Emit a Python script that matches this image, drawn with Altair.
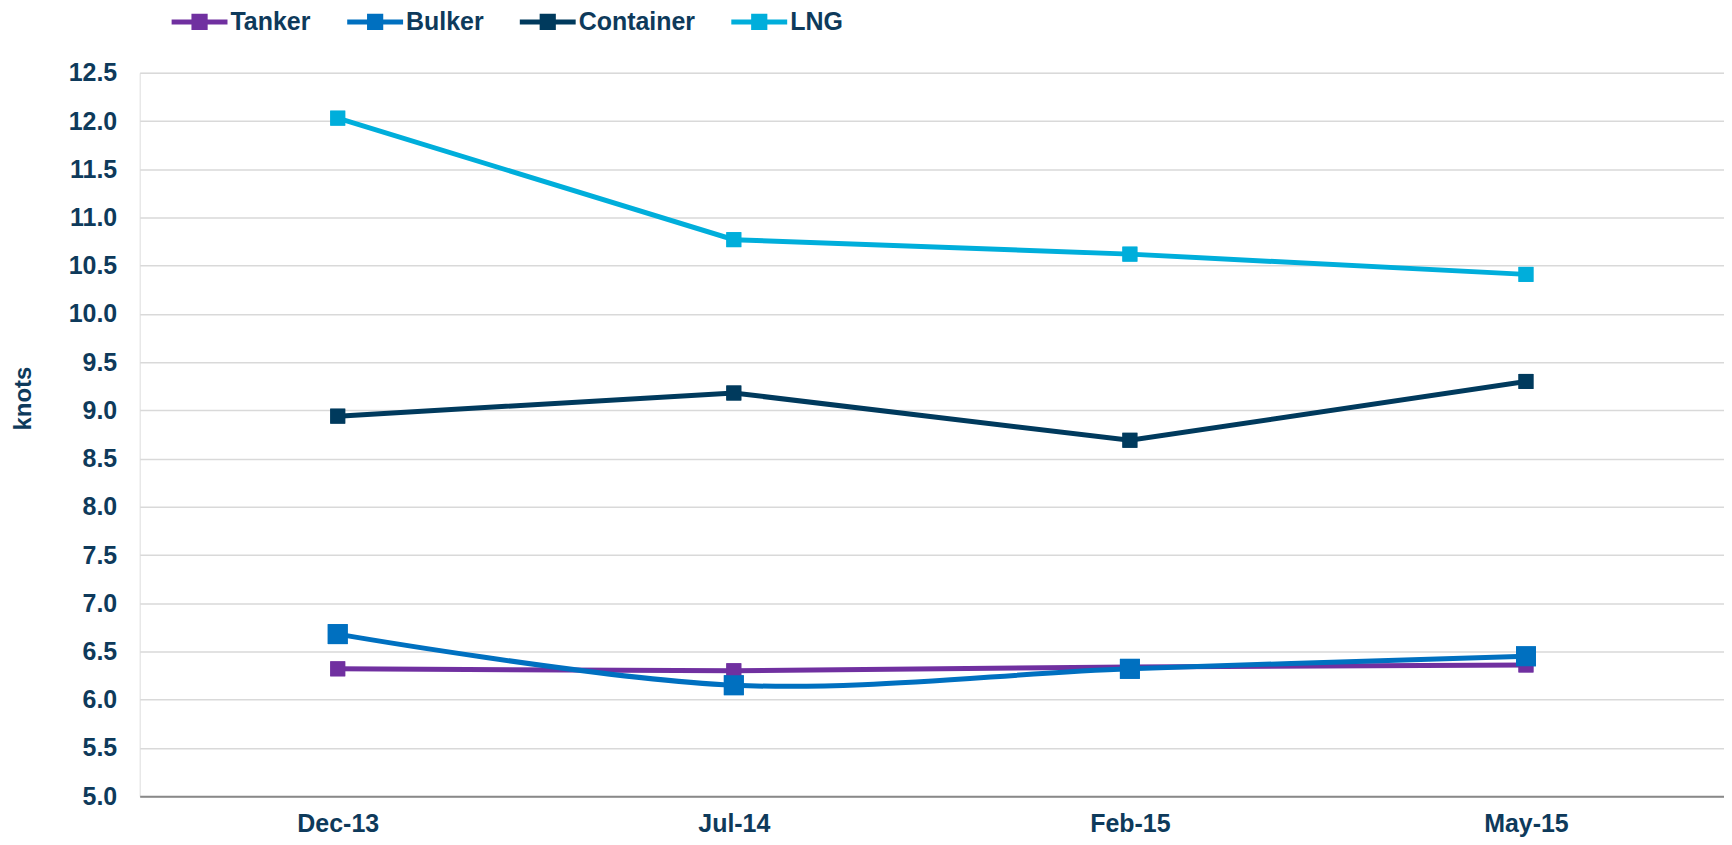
import altair as alt
import pandas as pd

categories = ["Dec-13", "Jul-14", "Feb-15", "May-15"]
series_names = ["Tanker", "Bulker", "Container", "LNG"]
tanker = [6.32, 6.30, 6.34, 6.36]
bulker = [6.68, 6.15, 6.32, 6.45]
container = [8.94, 9.18, 8.69, 9.30]
lng = [12.03, 10.77, 10.62, 10.41]
y_ticks = [5.0, 5.5, 6.0, 6.5, 7.0, 7.5, 8.0, 8.5, 9.0, 9.5, 10.0, 10.5, 11.0, 11.5, 12.0, 12.5]
colors = ["#7030A0", "#0070C0", "#003A5D", "#00AEDB"]

rows = []
for name, vals in zip(series_names, [tanker, bulker, container, lng]):
    for c, v in zip(categories, vals):
        rows.append({"period": c, "series": name, "knots": v, "order": series_names.index(name)})
df = pd.DataFrame(rows)

TEXT = "#0E3A5B"
FONT = "Liberation Sans"
FS = 25

x_enc = alt.X("period:N", sort=categories,
              scale=alt.Scale(paddingInner=0, paddingOuter=0),
              axis=alt.Axis(title=None, labelAngle=0, labelFont=FONT, labelFontSize=FS,
                            labelFontWeight="bold", labelColor=TEXT, labelPadding=15,
                            ticks=False, domain=True, domainColor="#898989", domainWidth=2,
                            grid=False))
y_enc = alt.Y("knots:Q", scale=alt.Scale(domain=[5, 12.5], nice=False, zero=False),
              axis=alt.Axis(title="knots", values=y_ticks, format=".1f", labelFont=FONT,
                            labelFontSize=FS, labelFontWeight="bold", labelColor=TEXT,
                            labelPadding=23, ticks=False, domain=False, grid=True,
                            gridColor="#D9D9D9", gridWidth=1.5,
                            titleFont=FONT, titleFontSize=24, titleFontWeight="bold",
                            titleColor=TEXT, titleAngle=270, titleX=-116, titleY=326,
                            titleAlign="center", titleBaseline="middle"))
color_scale = alt.Scale(domain=series_names, range=colors)

legend_path = ("M -1 -0.09 L 1 -0.09 L 1 0.09 L -1 0.09 Z "
               "M -0.29 -0.29 L 0.29 -0.29 L 0.29 0.29 L -0.29 0.29 Z")

legend = alt.Legend(title=None, orient="none", direction="horizontal",
                    legendX=32, legendY=-79, padding=0,
                    symbolType=legend_path, symbolSize=3136,
                    symbolStrokeWidth=0, symbolOpacity=1,
                    labelFont=FONT, labelFontSize=FS,
                    labelFontWeight="bold", labelColor=TEXT,
                    labelOffset=3, columnPadding=36, labelLimit=400)

color_enc = alt.Color("series:N", scale=color_scale, sort=series_names, legend=legend)

base = alt.Chart(df)

points = base.mark_point(filled=True, shape="square", opacity=1).encode(
    x=x_enc, y=y_enc, color=color_enc,
    size=alt.condition(alt.datum.series == "Bulker", alt.value(400), alt.value(225)),
    order="order:Q")

lines_straight = base.transform_filter(alt.datum.series != "Bulker").mark_line(
    strokeWidth=5).encode(
    x=x_enc, y=y_enc, color=color_enc, order="order:Q")

line_bulker = base.transform_filter(alt.datum.series == "Bulker").mark_line(
    strokeWidth=5, interpolate="cardinal", tension=0).encode(
    x=x_enc, y=y_enc, color=color_enc)

chart = alt.layer(points, lines_straight, line_bulker, points).properties(
    width=1588, height=725,
    autosize=alt.AutoSizeParams(type="none"),
    padding={"left": 132, "top": 64, "right": 0, "bottom": 40},
).configure_view(stroke=None).configure(background="white")

chart.save("out.html", embed_options={"renderer": "svg", "actions": False})
